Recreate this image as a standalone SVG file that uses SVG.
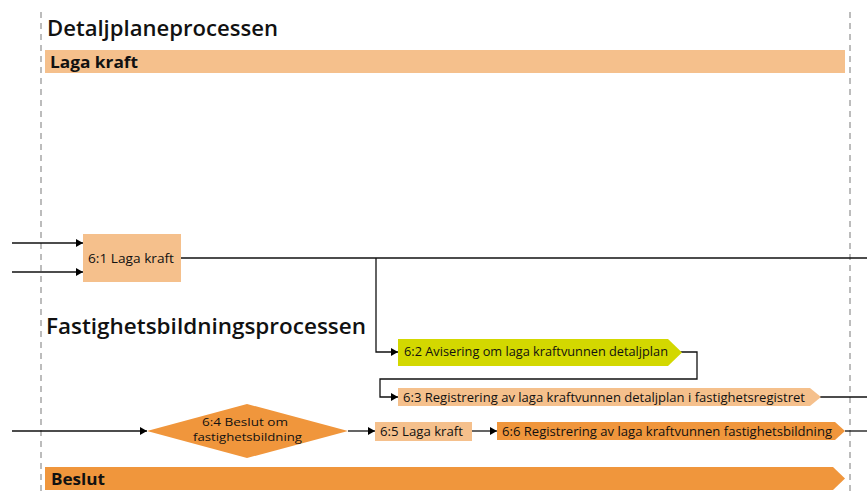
<svg xmlns="http://www.w3.org/2000/svg" width="867" height="493" viewBox="0 0 867 493">
<defs>
<marker id="ah" markerWidth="8" markerHeight="8" refX="7" refY="4" orient="auto" markerUnits="userSpaceOnUse">
<path d="M0,0 L7,4 L0,8 Z" fill="#000"/>
</marker>
<style>
.h{font-family:"Open Sans","Liberation Sans",sans-serif;font-size:22px;font-weight:600;fill:#111}
.bar{font-family:"Open Sans","Liberation Sans",sans-serif;font-size:16px;font-weight:bold;fill:#111}
.t{font-family:"Open Sans","Liberation Sans",sans-serif;font-size:12.5px;fill:#111}
.t2{font-family:"Open Sans","Liberation Sans",sans-serif;font-size:11px;fill:#111}
.ln{stroke:#111;stroke-width:1.3;fill:none}
.dash{stroke:#999;stroke-width:1.3;stroke-dasharray:6,5}
.lt{fill:#f5c08c}
.dk{fill:#f0963c}
</style>
</defs>
<rect width="867" height="493" fill="#fff"/>
<line class="dash" x1="41" y1="12" x2="41" y2="493"/>
<line class="dash" x1="850" y1="12" x2="850" y2="493"/>
<text class="h" x="47" y="36" textLength="231" lengthAdjust="spacingAndGlyphs">Detaljplaneprocessen</text>
<g id="bar-laga-kraft"><rect class="lt" x="45" y="50" width="800" height="23"/><text class="bar" x="50" y="68" textLength="88" lengthAdjust="spacingAndGlyphs">Laga kraft</text></g>
<text class="h" x="46" y="334" textLength="320" lengthAdjust="spacingAndGlyphs">Fastighetsbildningsprocessen</text>
<g id="connectors">
<line class="ln" x1="12" y1="243" x2="83" y2="243" marker-end="url(#ah)"/>
<line class="ln" x1="12" y1="272" x2="83" y2="272" marker-end="url(#ah)"/>
<line class="ln" x1="181" y1="258" x2="867" y2="258"/>
<polyline class="ln" points="376,258 376,352 398,352" marker-end="url(#ah)"/>
<polyline class="ln" points="680,352 697,352 697,379 380,379 380,397 398,397" marker-end="url(#ah)"/>
<line class="ln" x1="820" y1="397" x2="867" y2="397"/>
<line class="ln" x1="12" y1="431" x2="147" y2="431" marker-end="url(#ah)"/>
<line class="ln" x1="348" y1="431" x2="375" y2="431" marker-end="url(#ah)"/>
<line class="ln" x1="472" y1="431" x2="497" y2="431" marker-end="url(#ah)"/>
<line class="ln" x1="845" y1="431" x2="867" y2="431"/>
</g>
<g id="n61"><rect class="lt" x="83" y="234" width="98" height="48"/><text class="t" x="88" y="262.5" textLength="86" lengthAdjust="spacingAndGlyphs">6:1  Laga kraft</text></g>
<g id="n62"><path d="M398,339 H668 L682,352.5 L668,366 H398 Z" fill="#d3d800"/><text class="t" x="404" y="356" textLength="264" lengthAdjust="spacingAndGlyphs">6:2 Avisering om laga kraftvunnen detaljplan</text></g>
<g id="n63"><path d="M398,388 H810 L821,397 L810,406 H398 Z" class="lt"/><text class="t" x="403" y="401.5" textLength="402" lengthAdjust="spacingAndGlyphs">6:3 Registrering av laga kraftvunnen detaljplan i fastighetsregistret</text></g>
<g id="n64"><path d="M147,431 L247,404 L348,431 L247,458 Z" class="dk"/><text class="t2" x="245" y="425.5" text-anchor="middle" textLength="86" lengthAdjust="spacingAndGlyphs">6:4 Beslut om</text><text class="t2" x="247.5" y="441" text-anchor="middle" textLength="109" lengthAdjust="spacingAndGlyphs">fastighetsbildning</text></g>
<g id="n65"><rect class="lt" x="375" y="422" width="97" height="19"/><text class="t" x="380" y="435.5" textLength="83" lengthAdjust="spacingAndGlyphs">6:5 Laga kraft</text></g>
<g id="n66"><path d="M497,422 H835 L845,431 L835,440 H497 Z" class="dk"/><text class="t" x="502" y="435.5" textLength="330" lengthAdjust="spacingAndGlyphs">6:6 Registrering av laga kraftvunnen fastighetsbildning</text></g>
<g id="bar-beslut"><path d="M45,467 H833 L845,478.5 L833,490 H45 Z" class="dk"/><text class="bar" x="51" y="485" textLength="54" lengthAdjust="spacingAndGlyphs">Beslut</text></g>
</svg>
